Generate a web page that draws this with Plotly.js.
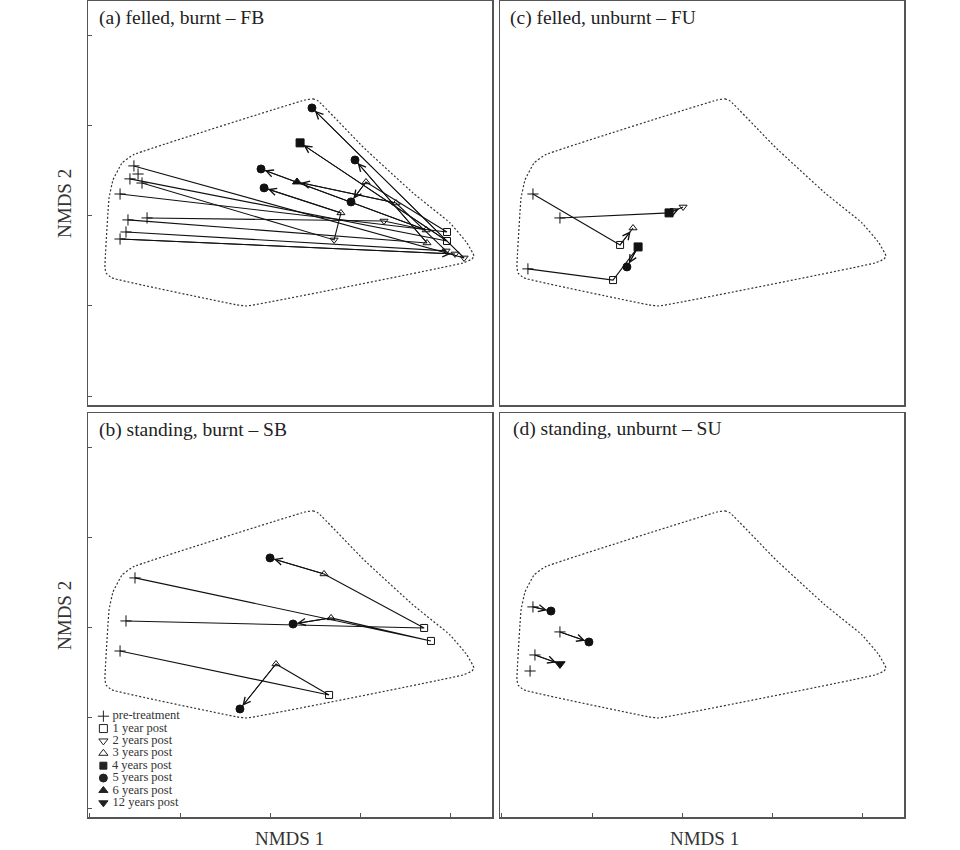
<!DOCTYPE html>
<html><head><meta charset="utf-8">
<script src="https://cdn.plot.ly/plotly-3.0.1.min.js"></script>
<style>html,body{margin:0;padding:0;background:#fff}#chart{width:960px;height:850px}</style>
</head><body><div id="chart"></div>
<script>
// ---------- data ----------
const stageLabels = ['pre-treatment','1 year post','2 years post','3 years post','4 years post','5 years post','6 years post','12 years post'];
const panelTitles = ['(a) felled, burnt – FB','(c) felled, unburnt – FU','(b) standing, burnt – SB','(d) standing, unburnt – SU'];
const axisTitleX = 'NMDS 1';
const axisTitleY = 'NMDS 2';
const tickVals = [-1, -0.5, 0, 0.5, 1];

// convex hull of all sites (same in every panel)
const hullX = [0.194, 0.239, 0.267, 0.517, 0.794, 1.0, 1.094, 1.133, 1.122, 1.072, -0.128, -0.183, -0.878, -0.911, -0.917, -0.894, -0.872, -0.822, -0.761];
const hullY = [0.644, 0.65, 0.639, 0.383, 0.128, -0.039, -0.15, -0.222, -0.239, -0.261, -0.5, -0.494, -0.344, -0.317, -0.283, 0.1, 0.2, 0.294, 0.339];

// (a) felled, burnt – FB : one array per site trajectory
const fbX = [[-0.756, 1.078, 0.233], [-0.778, 0.983, 0.167], [-0.711, 0.356, 0.394, -0.033], [-0.833, 0.983, 0.533, 0.45], [-0.789, 0.872, 0.472], [-0.683, 0.633, 0.867, -0.05], [-0.8, 0.978, 0.7, 0.15], [-0.833, 1.028], [-0.733]];
const fbY = [[0.278, -0.233, 0.6], [0.206, -0.139, 0.406], [0.183, -0.133, 0.017, 0.156], [0.122, -0.089, 0.189, 0.078], [-0.022, -0.15, 0.311], [-0.011, -0.028, -0.078, 0.261], [-0.089, -0.194, 0.072, 0.189], [-0.128, -0.211], [0.233]];
const fbStage = [[0, 2, 5], [0, 1, 4], [0, 2, 3, 5], [0, 1, 3, 5], [0, 3, 5], [0, 2, 3, 5], [0, 2, 3, 6], [0, 2], [0]];

// (c) felled, unburnt – FU
const fuX = [[-0.828, -0.344, -0.272], [-0.678, -0.072, 0.006], [-0.856, -0.383, -0.244, -0.306]];
const fuY = [[0.122, -0.161, -0.067], [-0.011, 0.017, 0.05], [-0.294, -0.356, -0.172, -0.283]];
const fuStage = [[0, 1, 3], [0, 4, 2], [0, 1, 4, 5]];

// (b) standing, burnt – SB
const sbX = [[-0.8, 0.856, 0.3, 0.0], [-0.75, 0.894, 0.339, 0.128], [-0.833, 0.328, 0.033, -0.167]];
const sbY = [[0.039, 0.0, 0.3, 0.389], [0.278, -0.072, 0.056, 0.022], [-0.128, -0.372, -0.2, -0.45]];
const sbStage = [[0, 1, 3, 5], [0, 1, 3, 5], [0, 1, 3, 5]];

// (d) standing, unburnt – SU
const suX = [[-0.828, -0.728], [-0.678, -0.517], [-0.817, -0.678], [-0.844]];
const suY = [[0.117, 0.094], [-0.022, -0.078], [-0.15, -0.2], [-0.239]];
const suStage = [[0, 5], [0, 5], [0, 7], [0]];

// ---------- styles ----------
const stageSymbols = ['cross-thin','square-open','triangle-down-open','triangle-up-open','square','circle','triangle-up','triangle-down'];
const stageSizes = [8, 7, 7, 7, 8, 8, 8, 9];
const ink = '#111';
const serif = 'Liberation Serif, Times New Roman, DejaVu Serif, serif';

const panels = [
  {xs: fbX, ys: fbY, st: fbStage, xa: 'x',  ya: 'y',  title: panelTitles[0], tx: 0.022, ty: 0.958},
  {xs: fuX, ys: fuY, st: fuStage, xa: 'x2', ya: 'y2', title: panelTitles[1], tx: 0.021, ty: 0.958},
  {xs: sbX, ys: sbY, st: sbStage, xa: 'x3', ya: 'y3', title: panelTitles[2], tx: 0.022, ty: 0.958},
  {xs: suX, ys: suY, st: suStage, xa: 'x4', ya: 'y4', title: panelTitles[3], tx: 0.027, ty: 0.96}
];

const traces = [];
const annotations = [];

panels.forEach(p => {
  // hull
  traces.push({type: 'scatter', mode: 'lines', x: hullX.concat([hullX[0]]), y: hullY.concat([hullY[0]]),
    xaxis: p.xa, yaxis: p.ya, line: {color: '#333', width: 1.2, dash: '2px,2px', shape: 'spline', smoothing: 0.3},
    hoverinfo: 'skip', showlegend: false});
  // trajectories
  p.xs.forEach((xs, i) => {
    const ys = p.ys[i], st = p.st[i];
    traces.push({type: 'scatter', mode: xs.length > 1 ? 'lines+markers' : 'markers', x: xs, y: ys,
      xaxis: p.xa, yaxis: p.ya, cliponaxis: false,
      line: {color: ink, width: 1.1},
      marker: {symbol: st.map(k => stageSymbols[k]), size: st.map(k => stageSizes[k]), opacity: 1, color: ink, line: {color: ink, width: 1}},
      hoverinfo: 'skip', showlegend: false});
    if (xs.length > 1) {
      const n = xs.length;
      annotations.push({xref: p.xa, yref: p.ya, axref: p.xa, ayref: p.ya,
        x: xs[n - 1], y: ys[n - 1], ax: xs[n - 2], ay: ys[n - 2], text: '',
        showarrow: true, arrowhead: 5, arrowsize: 1.4, arrowwidth: 1, arrowcolor: ink, standoff: 4});
    }
  });
  // panel title
  annotations.push({xref: p.xa + ' domain', yref: p.ya + ' domain', x: p.tx, y: p.ty, xanchor: 'left', yanchor: 'middle',
    text: p.title, showarrow: false, font: {family: serif, size: 19.5, color: '#222'}});
});

// legend (symbols + labels), drawn on a hidden helper axis
traces.push({type: 'scatter', mode: 'markers+text', x: stageLabels.map(() => 0), y: stageLabels.map((_, i) => i),
  text: stageLabels, texttemplate: '\u00a0%{text}', textposition: 'middle right', xaxis: 'x5', yaxis: 'y5', cliponaxis: false,
  textfont: {family: serif, size: 12.5, color: '#333'},
  marker: {symbol: stageSymbols, size: [8, 8, 8, 8, 7, 8, 8, 8], opacity: 1, color: '#222', line: {color: '#222', width: 1}},
  hoverinfo: 'skip', showlegend: false});

// axis titles
[[0.0677, 0.7612], [0.0677, 0.2765]].forEach(([x, y]) => annotations.push({xref: 'paper', yref: 'paper', x, y,
  xanchor: 'center', yanchor: 'middle',
  text: axisTitleY, textangle: -90, showarrow: false, font: {family: serif, size: 19, color: '#333'}}));
[[0.302, 0.0141], [0.734, 0.0141]].forEach(([x, y]) => annotations.push({xref: 'paper', yref: 'paper', x, y,
  xanchor: 'center', yanchor: 'middle',
  text: axisTitleX, showarrow: false, font: {family: serif, size: 19, color: '#333'}}));

// ---------- layout ----------
const L = [88 / 960, 492 / 960], R = [500 / 960, 904 / 960];
const T = [1 - 405 / 850, 1 - 1 / 850], B = [1 - 817 / 850, 1 - 413 / 850];
const xr = [-1.011, 1.233], yr = [-1.05, 1.194];
function axis(domain, range, anchor, withTicks) {
  return {domain, range, anchor, showline: true, mirror: true, linecolor: '#555', linewidth: 1.5,
    showgrid: false, zeroline: false, showticklabels: false, ticks: withTicks ? 'inside' : '',
    tickmode: 'array', tickvals: tickVals, ticklen: 4, tickwidth: 1, tickcolor: '#555', fixedrange: true};
}
const layout = {
  width: 960, height: 850, margin: {l: 0, r: 0, t: 0, b: 0},
  paper_bgcolor: '#fff', plot_bgcolor: 'rgba(0,0,0,0)', showlegend: false, hovermode: false,
  xaxis: axis(L, xr, 'y', false),  yaxis: axis(T, yr, 'x', true),
  xaxis2: axis(R, xr, 'y2', false), yaxis2: axis(T, yr, 'x2', false),
  xaxis3: axis(L, xr, 'y3', true),  yaxis3: axis(B, yr, 'x3', true),
  xaxis4: axis(R, xr, 'y4', true),  yaxis4: axis(B, yr, 'x4', false),
  xaxis5: {domain: [0.1, 0.3], range: [-0.04, 1], anchor: 'y5', visible: false, fixedrange: true},
  yaxis5: {domain: [1 - 809 / 850, 1 - 710 / 850], range: [7.5, -0.5], anchor: 'x5', visible: false, fixedrange: true},
  annotations
};
Plotly.newPlot('chart', traces, layout, {staticPlot: true, displayModeBar: false});
</script>
</body></html>
